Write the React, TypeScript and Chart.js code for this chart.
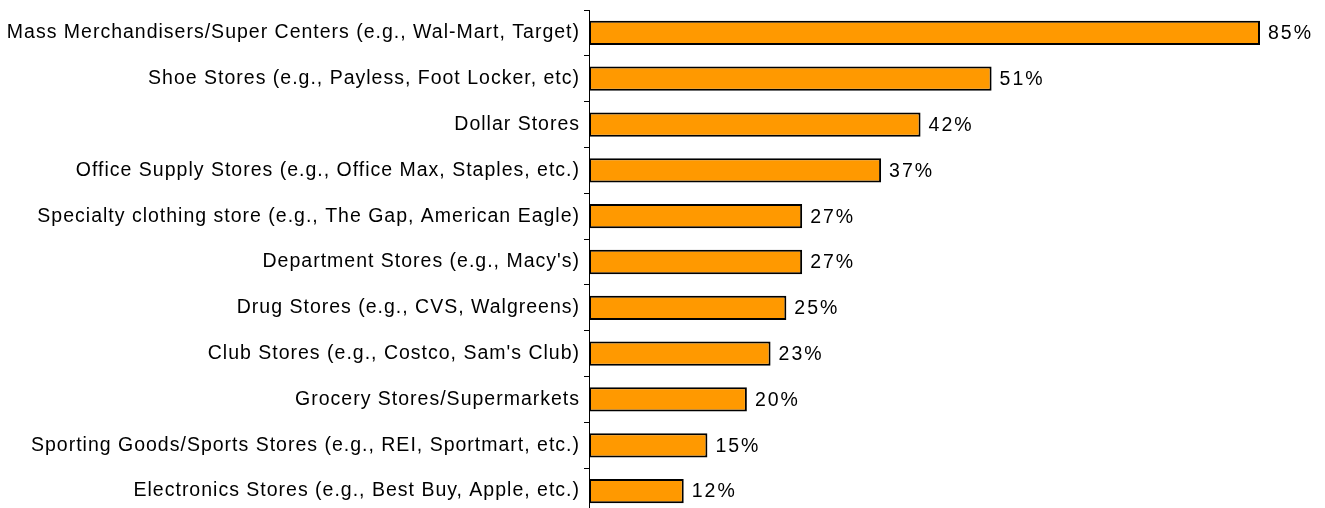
import React, { useEffect, useRef } from "react";
import { Chart, registerables } from "chart.js";

Chart.register(...registerables);

const categories = [
  "Mass Merchandisers/Super Centers (e.g., Wal-Mart, Target)",
  "Shoe Stores (e.g., Payless, Foot Locker, etc)",
  "Dollar Stores",
  "Office Supply Stores (e.g., Office Max, Staples, etc.)",
  "Specialty clothing store (e.g., The Gap, American Eagle)",
  "Department Stores (e.g., Macy's)",
  "Drug Stores (e.g., CVS, Walgreens)",
  "Club Stores (e.g., Costco, Sam's Club)",
  "Grocery Stores/Supermarkets",
  "Sporting Goods/Sports Stores (e.g., REI, Sportmart, etc.)",
  "Electronics Stores (e.g., Best Buy, Apple, etc.)",
];

const values = [85, 51, 42, 37, 27, 27, 25, 23, 20, 15, 12];

const FONT = "'Liberation Sans', Arial, sans-serif";

const letterSpacingPlugin = {
  id: "letterSpacing",
  beforeDraw(chart: any) {
    (chart.ctx as any).letterSpacing = "1px";
  },
};

const valueLabelPlugin = {
  id: "valueLabels",
  afterDatasetsDraw(chart: any) {
    const ctx = chart.ctx;
    const meta = chart.getDatasetMeta(0);
    ctx.save();
    (ctx as any).letterSpacing = "2px";
    ctx.font = `19.5px ${FONT}`;
    ctx.fillStyle = "#000";
    ctx.textAlign = "left";
    ctx.textBaseline = "middle";
    meta.data.forEach((bar: any, i: number) => {
      ctx.fillText(values[i] + "%", bar.x + 8, bar.y + 1);
    });
    ctx.restore();
  },
};

export default function App() {
  const ref = useRef<HTMLCanvasElement>(null);

  useEffect(() => {
    if (!ref.current) return;
    const chart = new Chart(ref.current, {
      type: "bar",
      data: {
        labels: categories,
        datasets: [
          {
            data: values,
            backgroundColor: "#FF9900",
            borderColor: "#000000",
            borderWidth: 2,
            borderSkipped: false,
            categoryPercentage: 1,
            barPercentage: 0.53,
          },
        ],
      },
      options: {
        indexAxis: "y",
        animation: false,
        responsive: false,
        layout: { padding: { top: 10, right: 65, bottom: 10, left: 0 } },
        plugins: {
          legend: { display: false },
          tooltip: { enabled: false },
        },
        scales: {
          x: {
            display: false,
            min: 0,
            max: 85,
          },
          y: {
            afterFit(scale: any) {
              scale.width = 589;
              scale.paddingTop = 0;
              scale.paddingBottom = 0;
            },
            grid: {
              drawOnChartArea: false,
              color: "#000",
              tickLength: 5,
              offset: true,
            },
            border: { color: "#000", width: 1 },
            ticks: {
              color: "#000",
              padding: 4,
              font: { family: FONT, size: 19.5 },
              autoSkip: false,
            },
          },
        },
      },
      plugins: [letterSpacingPlugin, valueLabelPlugin],
    });
    return () => chart.destroy();
  }, []);

  return (
    <div
      style={{
        position: "fixed",
        left: 0,
        top: 0,
        width: 1325,
        height: 508,
        overflow: "hidden",
        background: "#fff",
      }}
    >
      <canvas ref={ref} width={1325} height={524} style={{ display: "block" }} />
    </div>
  );
}
